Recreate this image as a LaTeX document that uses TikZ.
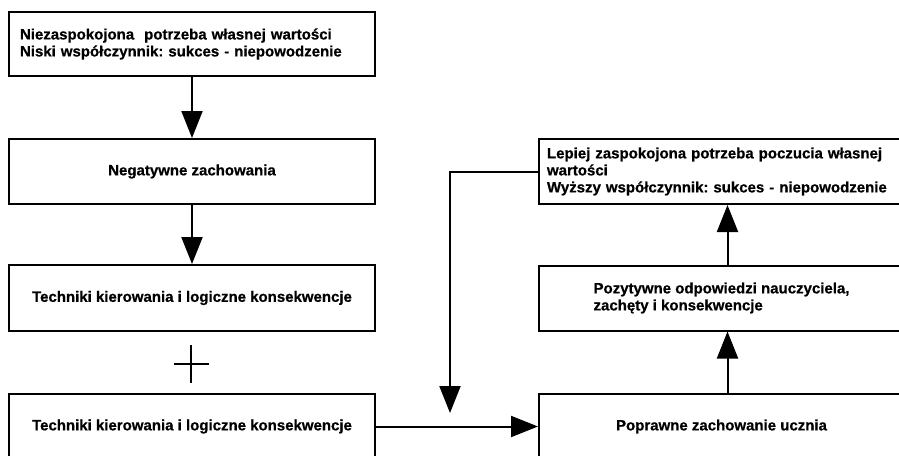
\documentclass[tikz,border=0pt]{standalone}
\usepackage{fontspec}
\setmainfont{Liberation Sans}[BoldFeatures={FakeBold=0.6}]
\usetikzlibrary{arrows.meta}
\frenchspacing
\begin{document}
\begin{tikzpicture}[x=1pt,y=-1pt,
  box/.style={draw=black,line width=2pt,fill=white,minimum width=366pt,minimum height=65pt,
    inner sep=0pt,font=\fontsize{15}{17}\selectfont\bfseries,align=center},
  arr/.style={line width=2pt,-{Triangle[length=27pt,width=21pt]}},
  plusline/.style={line width=1.2pt},
]
\useasboundingbox (0,0) rectangle (899,455);
\fill[white] (0,0) rectangle (899,455);
\clip (0,0) rectangle (899,455);

\node[box,minimum height=64pt,text width=344pt,inner xsep=11pt,align=left] (n1) at (192,44)
  {Niezaspokojona~ potrzeba własnej wartości\\Niski współczynnik: sukces - niepowodzenie};
\node[box] (n2) at (192,171.5) {Negatywne zachowania};
\node[box,minimum height=66pt] (n3) at (192,298) {Techniki kierowania i logiczne konsekwencje};
\node[box] (n4) at (192,426.5) {Techniki kierowania i logiczne konsekwencje};

\node[box,minimum width=365pt] (n5) at (721.5,426.5) {Poprawne zachowanie ucznia};
\node[box,minimum width=365pt,align=left] (n6) at (721.5,298) {Pozytywne odpowiedzi nauczyciela,\\zachęty i konsekwencje};
\node[box,minimum width=365pt,text width=349pt,inner xsep=8pt,align=left] (n7) at (721.5,171.5)
  {Lepiej zaspokojona potrzeba poczucia własnej\\wartości\\Wyższy współczynnik: sukces - niepowodzenie};

\coordinate (fb) at (450,413);

\draw[arr] (n1) -- (n2);
\draw[arr] (n2) -- (n3);
\draw[arr] (n4) -- (n5);
\draw[arr] ([xshift=6pt]n5.north) -- ([xshift=6pt]n6.south);
\draw[arr] ([xshift=6pt]n6.north) -- ([xshift=6pt]n7.south);
\draw[arr] (n7.west) -| (fb);

\draw[plusline] (174,364) -- (209,364) (191,345) -- (191,383);
\end{tikzpicture}
\end{document}
